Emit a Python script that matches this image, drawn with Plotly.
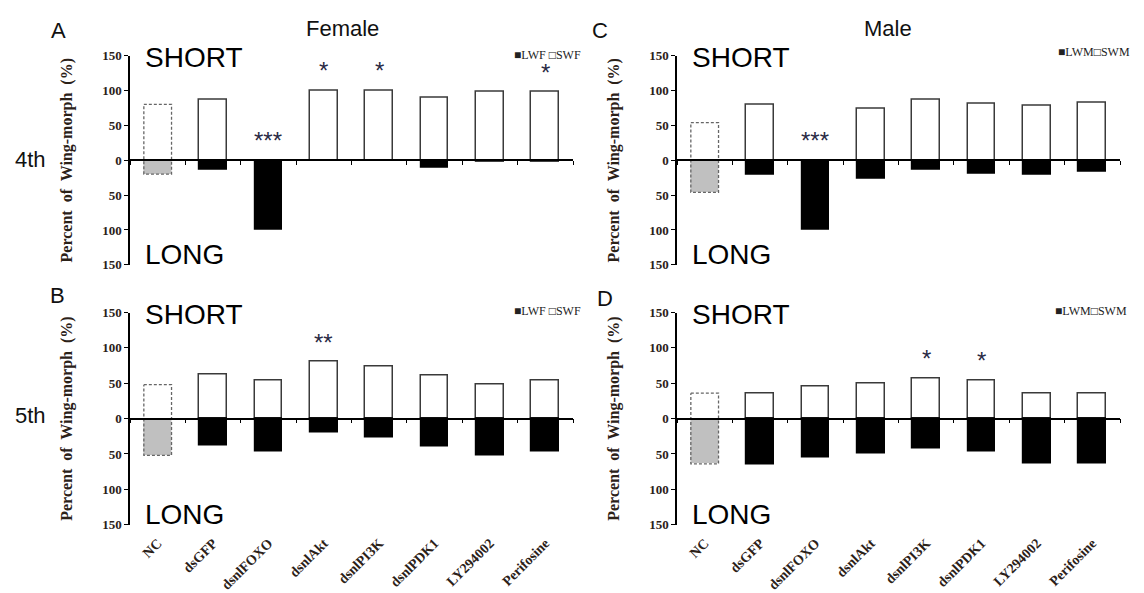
import plotly.graph_objects as go

categories = ["NC", "dsGFP", "dsnlFOXO", "dsnlAkt", "dsnlPI3K", "dsnlPDK1", "LY294002", "Perifosine"]

# Panel A: Female, 4th instar (short-winged up, long-winged down)
swf_4th = [80, 87, 0, 100, 100, 90, 98, 98]
lwf_4th = [20, 13, 100, 0, 0, 10, 2, 2]
sig_female_4th = ["", "", "***", "*", "*", "", "", "*"]

# Panel C: Male, 4th instar
swm_4th = [54, 80, 0, 74, 87, 81, 79, 83]
lwm_4th = [46, 20, 100, 26, 13, 19, 21, 17]
sig_male_4th = ["", "", "***", "", "", "", "", ""]

# Panel B: Female, 5th instar
swf_5th = [48, 62, 54, 80, 73, 61, 48, 54]
lwf_5th = [52, 38, 46, 20, 27, 39, 52, 46]
sig_female_5th = ["", "", "", "**", "", "", "", ""]

# Panel D: Male, 5th instar
swm_5th = [36, 35, 45, 50, 57, 54, 36, 36]
lwm_5th = [64, 65, 55, 50, 43, 46, 64, 64]
sig_male_5th = ["", "", "", "", "*", "*", "", ""]

ytick_vals = [-150, -100, -50, 0, 50, 100, 150]
ytick_text = ["150", "100", "50", "0", "50", "100", "150"]

W, H = 1144, 593
BW = 0.5
TXT = "#2b2118"
SERIF = "Liberation Serif"
SANS = "Liberation Sans"

def px_x(p):
    return p / W

def px_y(p):
    return 1 - p / H

xdomL = [px_x(130), px_x(573)]
xdomR = [px_x(677), px_x(1120)]
ydomT = [px_y(265), px_y(50)]
ydomB = [px_y(532), px_y(314)]

panels = [
    # (xaxis id, yaxis id, xdom, ydom, short, long, sig, legend text, legend x px, legend y px, bottom?)
    ("x", "y", xdomL, ydomT, swf_4th, lwf_4th, sig_female_4th, "■LWF □SWF", 512, 49, False),
    ("x2", "y2", xdomR, ydomT, swm_4th, lwm_4th, sig_male_4th, "■LWM□SWM", 1056, 46, False),
    ("x3", "y3", xdomL, ydomB, swf_5th, lwf_5th, sig_female_5th, "■LWF □SWF", 512, 312, True),
    ("x4", "y4", xdomR, ydomB, swm_5th, lwm_5th, sig_male_5th, "■LWM□SWM", 1053, 312, True),
]

fig = go.Figure()
annotations = []
layout = {}
nc = categories.index("NC")
idx = list(range(len(categories)))

for k, (xa, ya, xd, yd, short, long_, sig, legtxt, lgx, lgy, bottom) in enumerate(panels):
    # short-winged (up)
    fig.add_trace(go.Bar(
        x=idx, y=short, width=BW, xaxis=xa, yaxis=ya,
        marker=dict(color=["white"] * len(idx),
                    line=dict(color=["rgba(0,0,0,0)" if i == nc else "#3a3a3a" for i in idx], width=1.5)),
        showlegend=False, hoverinfo="skip"))
    # long-winged (down)
    fig.add_trace(go.Bar(
        x=idx, y=[-v for v in long_], width=BW, xaxis=xa, yaxis=ya,
        marker=dict(color=["#c0c0c0" if i == nc else "black" for i in idx],
                    line=dict(color=["rgba(0,0,0,0)" if i == nc else "black" for i in idx], width=1.2)),
        showlegend=False, hoverinfo="skip"))
    # dashed outline of control bar
    s, l = short[nc], long_[nc]
    fig.add_trace(go.Scatter(
        x=[nc - BW / 2, nc + BW / 2, nc + BW / 2, nc - BW / 2, nc - BW / 2],
        y=[s, s, -l, -l, s], mode="lines", xaxis=xa, yaxis=ya,
        line=dict(color="#666666", width=1.3, dash="3px,2px"),
        showlegend=False, hoverinfo="skip"))

    ymid = (yd[0] + yd[1]) / 2
    xkey = "xaxis" if xa == "x" else "xaxis" + xa[1:]
    ykey = "yaxis" if ya == "y" else "yaxis" + ya[1:]
    layout[xkey] = dict(
        domain=xd, anchor="free", position=ymid, range=[-0.5, 7.5],
        showline=True, linecolor="black", linewidth=1.5,
        tickmode="array", tickvals=[i - 0.5 for i in range(len(idx) + 1)],
        ticks="outside", ticklen=4, tickwidth=1.3, tickcolor="black",
        showticklabels=False, showgrid=False, zeroline=False)
    layout[ykey] = dict(
        domain=yd, anchor=xa, range=[-150, 150],
        tickmode="array", tickvals=ytick_vals,
        ticktext=["<b>%s</b>" % t for t in ytick_text],
        tickfont=dict(family=SERIF, size=13, color=TXT),
        ticks="outside", ticklen=4, tickwidth=1.3, tickcolor="black",
        showline=True, linecolor="black", linewidth=1.5,
        showgrid=False, zeroline=False,
        title=dict(text="<b>Percent  of  Wing-morph  (%)</b>",
                   font=dict(family=SERIF, size=16, color=TXT), standoff=26))

    if bottom:
        lx = "x%d" % (5 + (k - 2))
        fig.add_trace(go.Scatter(x=idx, y=[0] * len(idx), mode="markers",
                                 marker=dict(opacity=0), xaxis=lx, yaxis=ya,
                                 showlegend=False, hoverinfo="skip"))
        layout["xaxis" + lx[1:]] = dict(
            overlaying=xa, anchor=ya, side="bottom", range=[-0.5, 7.5],
            tickmode="array", tickvals=idx,
            ticktext=["<b>%s</b>" % c for c in categories],
            tickangle=-45, tickfont=dict(family=SERIF, size=14, color=TXT),
            ticks="outside", ticklen=4, tickcolor="rgba(0,0,0,0)",
            showline=False, showgrid=False, zeroline=False)

    xdom_ref = xa + " domain"
    ydom_ref = ya + " domain"
    annotations.append(dict(text="SHORT", xref=xdom_ref, yref=ydom_ref, x=0.03, y=0.99,
                            xanchor="left", yanchor="middle", showarrow=False,
                            font=dict(family=SANS, size=28, color="black")))
    annotations.append(dict(text="LONG", xref=xdom_ref, yref=ydom_ref, x=0.03, y=0.05,
                            xanchor="left", yanchor="middle", showarrow=False,
                            font=dict(family=SANS, size=28, color="black")))
    annotations.append(dict(text=legtxt, xref="paper", yref="paper",
                            x=px_x(lgx), y=px_y(lgy),
                            xanchor="left", yanchor="middle", showarrow=False,
                            font=dict(family=SERIF, size=12, color="#222222")))
    for i, t in enumerate(sig):
        if t:
            annotations.append(dict(text=t, xref=xa, yref=ya, x=i, y=short[i] + 28,
                                    xanchor="center", yanchor="middle", showarrow=False,
                                    font=dict(family=SANS, size=24, color="#2a2a44")))

# panel letters, titles and row labels
for txt, x, y in [("A", 58, 24), ("C", 600, 24), ("B", 57, 297), ("D", 605, 300),
                  ("Female", 342, 22), ("Male", 888, 22), ("4th", 30, 157), ("5th", 30, 420)]:
    annotations.append(dict(text=txt, xref="paper", yref="paper", x=px_x(x), y=px_y(y),
                            xanchor="center", yanchor="middle", showarrow=False,
                            font=dict(family=SANS, size=22, color="#111111")))

fig.update_layout(
    width=W, height=H, margin=dict(l=0, r=0, t=0, b=0),
    paper_bgcolor="white", plot_bgcolor="white",
    barmode="overlay", bargap=0, annotations=annotations, **layout)

fig.write_html("out.html", config={"displayModeBar": False},
               post_script="document.body.style.margin='0px';")
